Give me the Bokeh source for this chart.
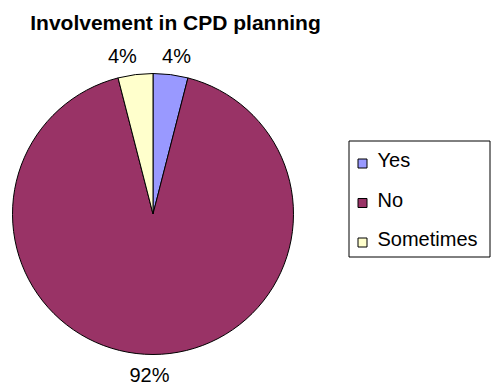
import numpy as np
from bokeh.plotting import figure
from bokeh.models import Range1d, ColumnDataSource
from bokeh.core.properties import value
from bokeh.embed import file_html
from bokeh.resources import INLINE

# ---- data ----
title_text = "Involvement in CPD planning"
categories = ["Yes", "No", "Sometimes"]
values = [4, 92, 4]
colors = ["#9999FF", "#993366", "#FFFFCC"]
labels = [f"{v}%" for v in values]

# ---- layout (pixels) ----
W, H = 495, 385
CX, CY = 152.5, H - 213.5
R = 140.5
FONT = "Liberation Sans"
FS = 20

p = figure(width=W, height=H, x_range=Range1d(0, W), y_range=Range1d(0, H),
           output_backend="svg", toolbar_location=None, min_border=0,
           x_axis_location=None, y_axis_location=None)
p.xgrid.visible = False
p.ygrid.visible = False
p.outline_line_color = None
p.background_fill_color = "white"
p.border_fill_color = "white"

vals = np.array(values, dtype=float)
frac = vals / vals.sum()
cum = np.concatenate([[0], np.cumsum(frac)])
start = np.pi / 2 - 2 * np.pi * cum[:-1]
end = np.pi / 2 - 2 * np.pi * cum[1:]
mid = (start + end) / 2

src = ColumnDataSource(dict(start=start, end=end, color=colors, cat=categories))
p.wedge(x=CX, y=CY, radius=R, start_angle="start", end_angle="end",
        direction="clock", fill_color="color", line_color="black",
        line_width=1, source=src)

# data labels
rl = 160
c = np.cos(mid)
lx = CX - 3.5 + rl * c + np.where(np.abs(c) > 0.05, 7 * np.sign(c), 0)
ly = CY + rl * np.sin(mid) - 1
p.text(x=lx, y=ly, text=labels, text_font=value(FONT), text_font_size=f"{FS}px",
       text_align="center", text_baseline="middle", text_color="black")

# title
p.text(x=[175], y=[H - 22], text=[title_text], text_font=value(FONT),
       text_font_size="21px", text_font_style="bold", text_align="center",
       text_baseline="middle", text_color="black")

# legend
p.quad(left=[348.5], right=[489.5], top=[H - 140.5], bottom=[H - 256.5],
       fill_color="white", line_color="black", line_width=1)
n = len(categories)
ybase = np.array([167 + 39.5 * i for i in range(n)], dtype=float)
p.quad(left=[357.5] * n, right=[366.5] * n,
       top=list(H - (ybase - 8.5)), bottom=list(H - (ybase + 0.5)),
       fill_color=colors, line_color="black", line_width=1)
p.text(x=[377] * n, y=list(H - (ybase - 0.36 * FS)), text=categories,
       text_font=value(FONT), text_font_size=f"{FS}px", text_align="left",
       text_baseline="middle", text_color="black")

open("out.html", "w").write(file_html(p, INLINE))
